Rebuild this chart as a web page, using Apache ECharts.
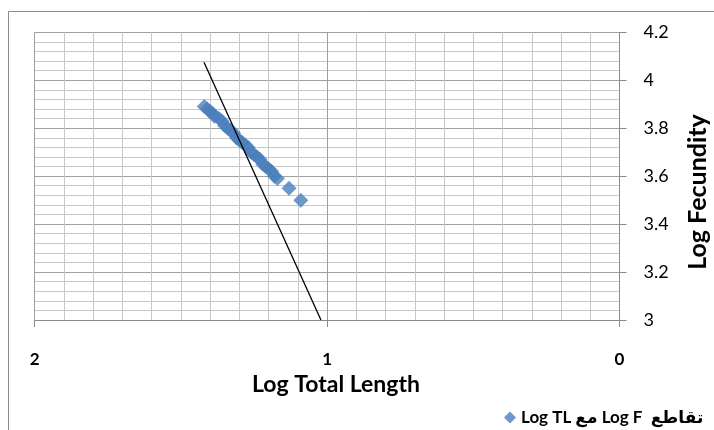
<!DOCTYPE html>
<html>
<head>
<meta charset="utf-8">
<script src="https://cdn.jsdelivr.net/npm/echarts@6/dist/echarts.min.js"></script>
<style>html,body{margin:0;padding:0;background:#fff;}#c{width:714px;height:430px;}</style>
</head>
<body>
<div id="c"></div>
<script>
// Observed points (Log TL, Log F)
const logTL = [1.42,1.41,1.40,1.39,1.385,1.37,1.36,1.35,1.34,1.33,1.32,1.31,1.30,1.29,1.28,1.27,1.26,1.25,1.24,1.23,1.22,1.21,1.20,1.19,1.18,1.17,1.13,1.09];
const logF  = [3.89,3.88,3.87,3.86,3.85,3.84,3.83,3.81,3.80,3.79,3.78,3.76,3.75,3.74,3.73,3.72,3.70,3.69,3.68,3.67,3.65,3.64,3.63,3.62,3.60,3.59,3.55,3.50];
// Black reference line endpoints
const lineX = [1.421, 1.021];
const lineY = [4.075, 3.0];
const xTicks = [0, 1, 2];
const yTicks = [3, 3.2, 3.4, 3.6, 3.8, 4, 4.2];
const legendName = 'Log TL مع Log F  تقاطع';
const xTitle = 'Log Total Length';
const yTitle = 'Log Fecundity';

const font = 'Lato, "Open Sans", "DejaVu Sans", sans-serif';
const chart = echarts.init(document.getElementById('c'), null, {renderer: 'canvas'});
chart.setOption({
  animation: false,
  backgroundColor: '#fff',
  graphic: [
    {
      type: 'rect', silent: true, z: -10,
      shape: {x: 8.5, y: 11.5, width: 720, height: 440},
      style: {fill: 'none', stroke: '#8c8c8c', lineWidth: 1}
    },
    {
      type: 'text', x: 336, y: 385,
      style: {text: xTitle, fontFamily: font, fontWeight: 'bold', fontSize: 23, fill: '#000', align: 'center', verticalAlign: 'middle'}
    },
    {
      type: 'text', x: 698, y: 192, rotation: Math.PI / 2,
      style: {text: yTitle, fontFamily: font, fontWeight: 'bold', fontSize: 25, fill: '#000', align: 'center', verticalAlign: 'middle'}
    }
  ],
  grid: {left: 34.7, right: 94.5, top: 32.3, bottom: 110},
  legend: {
    left: 499, top: 404,
    itemWidth: 12, itemHeight: 12, itemGap: 4,
    textStyle: {fontFamily: font, fontWeight: 'bold', fontSize: 17, color: '#000'},
    data: [{name: legendName, icon: 'diamond'}]
  },
  xAxis: {
    type: 'value', inverse: true, min: 0, max: 2, interval: 1,
    axisLine: {show: true, lineStyle: {color: '#8a8a8a'}},
    axisTick: {show: true, length: 7, lineStyle: {color: '#8a8a8a'}},
    axisLabel: {margin: 31, fontFamily: font, fontWeight: 'bold', fontSize: 17, color: '#000',
      formatter: v => xTicks.includes(v) ? String(v) : ''},
    splitLine: {show: true, lineStyle: {color: '#a0a0a0', width: 1}},
    minorTick: {show: false, splitNumber: 10},
    minorSplitLine: {show: true, lineStyle: {color: '#c8c8c8', width: 1}}
  },
  yAxis: {
    type: 'value', position: 'right', min: 3, max: 4.2, interval: 0.2,
    axisLine: {show: true, lineStyle: {color: '#8a8a8a'}},
    axisTick: {show: true, length: 7, lineStyle: {color: '#8a8a8a'}},
    axisLabel: {margin: 24, fontFamily: font, fontSize: 18, color: '#000',
      formatter: v => { const t = yTicks.find(k => Math.abs(k - v) < 1e-6); return t === undefined ? '' : String(t); }},
    splitLine: {show: true, lineStyle: {color: '#a0a0a0', width: 1}},
    minorTick: {show: false, splitNumber: 5},
    minorSplitLine: {show: true, lineStyle: {color: '#c8c8c8', width: 1}}
  },
  series: [
    {
      name: legendName, type: 'scatter', symbol: 'diamond', symbolSize: 15,
      itemStyle: {color: '#4a7ebb'},
      data: logTL.map((x, i) => [x, logF[i]]), z: 3
    },
    {
      name: 'trend', type: 'line', symbol: 'none', silent: true,
      lineStyle: {color: '#000', width: 1.3},
      data: lineX.map((x, i) => [x, lineY[i]]), z: 4
    }
  ]
});
</script>
</body>
</html>
